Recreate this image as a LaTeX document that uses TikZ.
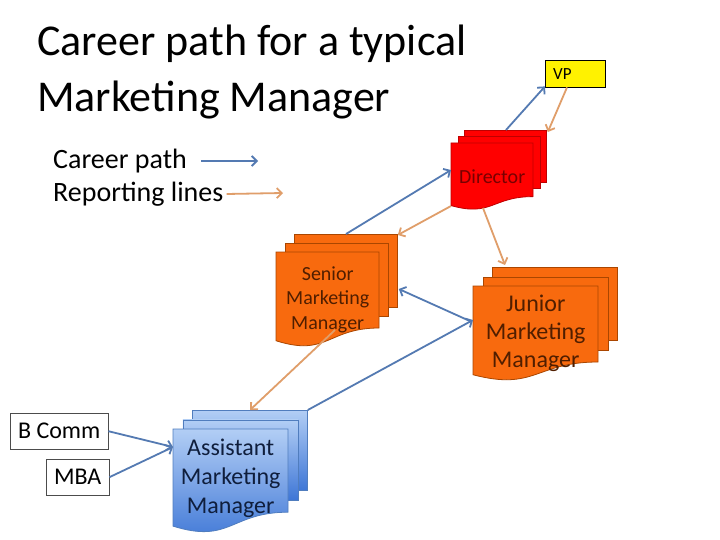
\documentclass[tikz,border=0pt]{standalone}
\usepackage{fontspec}
\setmainfont{Carlito}
\usepackage{xcolor}
\usepackage{tikz}
\usetikzlibrary{arrows.meta, positioning, calc}

\definecolor{careerblue}{RGB}{84,122,178}
\definecolor{reporttan}{RGB}{224,158,106}
\definecolor{dirred}{RGB}{255,0,0}
\definecolor{dirline}{RGB}{190,0,0}
\definecolor{dirtext}{RGB}{120,0,0}
\definecolor{mgrorange}{RGB}{248,106,14}
\definecolor{mgrline}{RGB}{170,70,0}
\definecolor{mgrtext}{RGB}{80,30,0}
\definecolor{asstop}{RGB}{178,206,245}
\definecolor{assbot}{RGB}{62,118,214}
\definecolor{assline}{RGB}{80,125,190}
\definecolor{asstext}{RGB}{15,30,60}

% stack of pages: name, x, y, width, height, page offset, page style, text style, text
\newcommand{\docstack}[9]{%
  \node[page, #7, minimum width=#4, minimum height=0.77*#5, anchor=north west] (#1-back) at (#2+2*#6,#3-2*#6) {};
  \node[page, #7, minimum width=#4, minimum height=0.77*#5, anchor=north west] (#1-mid) at (#2+#6,#3-#6) {};
  \path[page, #7] (#2,#3) -- (#2+#4,#3) -- (#2+#4,#3+0.8*#5)
    .. controls (#2+0.5*#4,#3+0.8*#5) and (#2+0.5*#4,#3+1.107*#5) .. (#2,#3+0.934*#5) -- cycle;
  \node[#8, anchor=north west, minimum width=#4, minimum height=#5, inner sep=0, align=center] (#1) at (#2,#3) {#9};
}

\begin{document}
\begin{tikzpicture}[
    x=1pt, y=-1pt,
    page/.style={draw, line width=0.8pt},
    director/.style={fill=dirred, draw=dirline},
    manager/.style={fill=mgrorange, draw=mgrline},
    assistant/.style={top color=asstop, bottom color=assbot, draw=assline},
    degree/.style={draw=black!70, fill=white, font=\fontsize{24}{26}\selectfont, inner sep=0, anchor=north west},
    key/.style={anchor=west, inner sep=0, font=\fontsize{28}{30}\selectfont},
    career/.style={-{Straight Barb[length=5pt,width=10pt]}, careerblue, line width=1.8pt},
    report/.style={-{Straight Barb[length=5pt,width=10pt]}, reporttan, line width=1.8pt}
]
    \useasboundingbox[fill=white] (0,0) rectangle (720,540);

    \node[anchor=base west, inner sep=0, font=\fontsize{44}{48}\selectfont] (title) at (37,56) {Career path for a typical};
    \node[anchor=base west, inner sep=0, font=\fontsize{44}{48}\selectfont] (titlesub) at (37,112) {Marketing Manager};

    \node[key] (careerkey) at (53,161) {Career path};
    \node[key] (reportkey) at (53,194) {Reporting lines};
    \coordinate (careerend) at (258,161);
    \coordinate (reportend) at (283,193);
    \draw[career] (careerkey.east) ++(14,0) -- (careerend);
    \draw[report] (reportkey.east) ++(3,0) -- (reportend);

    \node[draw=black, fill=yellow, text width=44, align=left, minimum height=27, inner xsep=8, inner ysep=0,
        anchor=north west, font=\fontsize{17}{19}\selectfont] (vp) at (545,60) {VP};

    \docstack{director}{451}{143}{82}{67}{6.5}{director}{text=dirtext, font=\fontsize{20}{22}\selectfont}{Director}
    \docstack{senior}{276}{252}{103}{95}{9}{manager}{text=mgrtext, font=\fontsize{20}{24.5}\selectfont}{Senior\\Marketing\\Manager}
    \docstack{junior}{473}{286}{125}{95}{9.5}{manager}{text=mgrtext, font=\fontsize{24}{28}\selectfont}{Junior\\Marketing\\Manager}
    \docstack{assistant}{173}{429}{115}{104}{9.5}{assistant}{text=asstext, yshift=3pt, font=\fontsize{24}{29}\selectfont}{Assistant\\Marketing\\Manager}

    \node[degree, minimum width=98, minimum height=36] (bcomm) at (10,413) {B Comm};
    \node[degree, minimum width=63, minimum height=36] (mba) at (46,459) {MBA};

    % career path
    \draw[career] (bcomm.east) -- ($(assistant.north west)+(0,21)$);
    \draw[career] (mba.east) -- ($(assistant.north west)+(0,21)$);
    \draw[career] (assistant-back.north east) -- ($(junior.north west)+(0,34)$);
    \draw[career] ($(junior.north west)+(-1,36)$) -- ($(senior-back.north east)+(1,55)$);
    \draw[career] ($(senior-back.north west)+(52,0)$) -- ($(director.north west)+(0,27)$);
    \draw[career] ($(director-back.north west)+(42,0)$) -- ($(vp.south west)+(0,-1)$);

    % reporting lines
    \draw[report] ($(vp.south west)+(22,0)$) -- ($(director-back.north east)+(1,2)$);
    \draw[report] ($(director.north west)+(0,63)$) -- ($(senior-back.north east)+(0,1)$);
    \draw[report] ($(director.north west)+(32,65)$) -- ($(junior-back.north west)+(13,-2)$);
    \draw[report] ($(senior.north west)+(59,78)$) -- ($(assistant-back.north west)+(58,0)$);

\end{tikzpicture}
\end{document}
